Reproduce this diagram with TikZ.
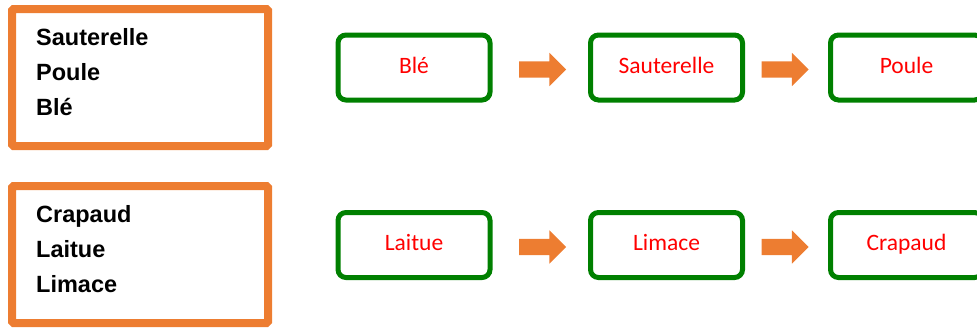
\documentclass[tikz,border=0pt]{standalone}
\usepackage{fontspec}
\setmainfont{Liberation Sans}
\newfontfamily\calibri{Carlito}
\usepackage{xcolor}
\usetikzlibrary{shapes.arrows,positioning}
\definecolor{boxorange}{HTML}{ED7D31}
\definecolor{boxgreen}{HTML}{008000}

\begin{document}
\begin{tikzpicture}[x=1pt,y=-1pt,
listbox/.style={draw=boxorange,line width=8pt,rounded corners=1.5pt,minimum width=256pt,minimum height=137pt,inner sep=0pt},
listtext/.style={anchor=base west,align=left,inner sep=0pt,font=\fontsize{23.5}{35}\selectfont\bfseries},
chainbox/.style={draw=boxgreen,line width=5pt,rounded corners=8pt,minimum width=152pt,minimum height=65pt,inner sep=0pt,text=red,text height=16pt,text depth=4.4pt,font=\calibri\fontsize{23.5}{28}\selectfont},
blockarrow/.style={single arrow,fill=boxorange,minimum height=47pt,inner xsep=0pt,inner ysep=8pt,single arrow head extend=8.5pt}]
\useasboundingbox (0,0) rectangle (977,327);

\begin{scope}
\clip (0,0) rectangle (977,327);

% first chain
\node[listbox] (list1) at (140,77.5) {};
\node[listtext] (names1) at (36,115) {Sauterelle\\Poule\\Blé};

\node[chainbox] (ble) at (414,67.5) {Blé};
\node[chainbox] (sauterelle) at (666.5,67.5) {Sauterelle};
\node[chainbox] (poule) at (906.5,67.5) {Poule};
\node[blockarrow] (arr1) at (538.5,69.5) {};
\node[blockarrow] (arr2) at (781,69.5) {};

% second chain
\node[listbox] (list2) at (140,254.5) {};
\node[listtext] (names2) at (36,292) {Crapaud\\Laitue\\Limace};

\node[chainbox] (laitue) at (414,245) {Laitue};
\node[chainbox] (limace) at (666.5,245) {Limace};
\node[chainbox] (crapaud) at (906.5,245) {Crapaud};
\node[blockarrow] (arr3) at (538.5,247) {};
\node[blockarrow] (arr4) at (781,247) {};

\end{scope}
\end{tikzpicture}
\end{document}
